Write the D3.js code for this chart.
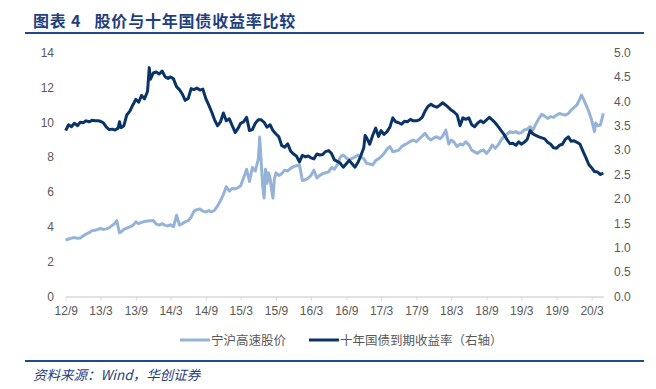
<!DOCTYPE html>
<meta charset="utf-8">
<style>
  body { margin: 0; background: #fff; }
  svg text { font-family: "Liberation Sans", Arial, sans-serif; }
  .cjk { font-family: "Noto Sans CJK SC", sans-serif; }
</style>
<svg width="656" height="389"></svg>
<script src="https://cdn.jsdelivr.net/npm/d3@7"></script>
<script>

// x axis tick labels (yy/m)
var tickLabels = ["12/9","13/3","13/9","14/3","14/9","15/3","15/9","16/3",
                  "16/9","17/3","17/9","18/3","18/9","19/3","19/9","20/3"];
var leftTicks = [0, 2, 4, 6, 8, 10, 12, 14];
var rightTicks = [0, 0.5, 1, 1.5, 2, 2.5, 3, 3.5, 4, 4.5, 5];

// 宁沪高速股价 (left axis)
var stockPrice = [
  ["2012-09-01",3.24],["2012-09-16",3.30],["2012-10-01",3.35],["2012-10-16",3.38],
  ["2012-11-01",3.34],["2012-11-16",3.36],["2012-12-01",3.48],["2012-12-16",3.58],
  ["2013-01-01",3.66],["2013-01-16",3.78],["2013-02-01",3.80],["2013-02-16",3.85],
  ["2013-03-01",3.90],["2013-03-16",3.85],["2013-04-01",3.88],["2013-04-16",3.95],
  ["2013-05-01",4.08],["2013-05-16",4.20],["2013-05-25",4.35],["2013-06-08",3.66],
  ["2013-06-16",3.70],["2013-07-01",3.85],["2013-07-16",3.92],["2013-08-01",4.00],
  ["2013-08-16",4.08],["2013-09-01",4.28],["2013-09-16",4.18],["2013-10-01",4.25],
  ["2013-10-16",4.30],["2013-11-01",4.33],["2013-11-16",4.35],["2013-12-01",4.36],
  ["2013-12-16",4.15],["2014-01-01",4.10],["2014-01-16",4.18],["2014-02-01",4.08],
  ["2014-02-16",4.05],["2014-03-01",4.12],["2014-03-16",4.00],["2014-04-01",4.66],
  ["2014-04-16",4.10],["2014-05-01",4.18],["2014-05-16",4.28],["2014-06-01",4.35],
  ["2014-06-16",4.55],["2014-07-01",4.90],["2014-07-16",4.98],["2014-08-01",5.02],
  ["2014-08-16",4.90],["2014-09-01",4.85],["2014-09-16",4.92],["2014-10-01",4.86],
  ["2014-10-16",4.95],["2014-11-01",5.20],["2014-11-16",5.50],["2014-12-01",5.85],
  ["2014-12-16",6.30],["2015-01-01",6.05],["2015-01-16",6.20],["2015-02-01",6.18],
  ["2015-02-16",6.25],["2015-03-01",6.35],["2015-03-16",6.80],["2015-04-01",7.30],
  ["2015-04-16",6.60],["2015-05-01",7.40],["2015-05-16",7.20],["2015-06-01",7.90],
  ["2015-06-08",9.15],["2015-06-16",7.70],["2015-06-23",6.40],["2015-07-01",5.65],
  ["2015-07-08",7.30],["2015-07-16",6.50],["2015-07-23",7.10],["2015-08-01",6.80],
  ["2015-08-08",6.20],["2015-08-16",5.65],["2015-08-23",6.70],["2015-09-01",7.10],
  ["2015-09-16",6.95],["2015-10-01",7.05],["2015-10-16",7.25],["2015-11-01",7.20],
  ["2015-11-16",7.35],["2015-12-01",7.45],["2015-12-16",7.50],["2016-01-01",7.55],
  ["2016-01-08",7.16],["2016-01-16",6.65],["2016-02-01",6.70],["2016-02-16",6.80],
  ["2016-03-01",6.95],["2016-03-16",7.25],["2016-04-01",6.80],["2016-04-16",6.95],
  ["2016-05-01",7.05],["2016-05-16",7.10],["2016-06-01",7.15],["2016-06-16",7.40],
  ["2016-07-01",7.30],["2016-07-16",7.55],["2016-08-01",8.00],["2016-08-16",8.12],
  ["2016-09-01",7.95],["2016-09-16",7.84],["2016-10-01",7.93],["2016-10-16",8.00],
  ["2016-11-01",8.12],["2016-11-16",8.00],["2016-12-01",7.90],["2016-12-16",7.64],
  ["2017-01-01",7.60],["2017-01-16",7.55],["2017-02-01",7.80],["2017-02-16",7.90],
  ["2017-03-01",8.02],["2017-03-16",8.20],["2017-04-01",8.45],["2017-04-16",8.60],
  ["2017-05-01",8.31],["2017-05-16",8.35],["2017-06-01",8.40],["2017-06-16",8.60],
  ["2017-07-01",8.70],["2017-07-16",8.79],["2017-08-01",8.90],["2017-08-16",8.98],
  ["2017-09-01",8.88],["2017-09-16",9.05],["2017-10-01",9.20],["2017-10-16",9.36],
  ["2017-11-01",9.10],["2017-11-16",8.98],["2017-12-01",9.10],["2017-12-16",9.17],
  ["2018-01-01",9.05],["2018-01-16",9.20],["2018-02-01",9.55],["2018-02-16",8.75],
  ["2018-03-01",8.98],["2018-03-16",8.85],["2018-04-01",8.60],["2018-04-16",8.75],
  ["2018-05-01",8.69],["2018-05-16",8.88],["2018-06-01",8.70],["2018-06-16",8.40],
  ["2018-07-01",8.30],["2018-07-16",8.21],["2018-08-01",8.35],["2018-08-16",8.40],
  ["2018-09-01",8.21],["2018-09-16",8.40],["2018-10-01",8.69],["2018-10-16",8.50],
  ["2018-11-01",8.70],["2018-11-16",8.98],["2018-12-01",9.17],["2018-12-16",9.30],
  ["2019-01-01",9.46],["2019-01-16",9.40],["2019-02-01",9.46],["2019-02-16",9.36],
  ["2019-03-01",9.40],["2019-03-16",9.55],["2019-04-01",9.60],["2019-04-16",9.74],
  ["2019-05-01",9.55],["2019-05-16",9.90],["2019-06-01",10.22],["2019-06-16",10.45],
  ["2019-07-01",10.35],["2019-07-16",10.22],["2019-08-01",10.32],["2019-08-16",10.28],
  ["2019-09-01",10.41],["2019-09-16",10.50],["2019-10-01",10.45],["2019-10-16",10.41],
  ["2019-11-01",10.50],["2019-11-16",10.70],["2019-12-01",10.85],["2019-12-16",11.00],
  ["2020-01-01",11.37],["2020-01-08",11.56],["2020-01-16",11.40],["2020-02-01",11.00],
  ["2020-02-16",10.60],["2020-03-01",10.13],["2020-03-16",9.46],["2020-03-23",9.95],
  ["2020-04-01",9.80],["2020-04-16",9.84],["2020-05-01",10.51]
];

// 十年国债到期收益率 (right axis)
var bondYield = [
  ["2012-09-01",3.40],["2012-09-16",3.52],["2012-10-01",3.48],["2012-10-16",3.55],
  ["2012-11-01",3.50],["2012-11-16",3.57],["2012-12-01",3.56],["2012-12-16",3.60],
  ["2013-01-01",3.58],["2013-01-16",3.61],["2013-02-01",3.60],["2013-02-16",3.60],
  ["2013-03-01",3.59],["2013-03-16",3.56],["2013-04-01",3.47],["2013-04-16",3.42],
  ["2013-05-01",3.43],["2013-05-16",3.41],["2013-06-01",3.45],["2013-06-08",3.58],
  ["2013-06-16",3.46],["2013-07-01",3.50],["2013-07-16",3.72],["2013-08-01",3.80],
  ["2013-08-16",3.92],["2013-09-01",4.04],["2013-09-16",3.98],["2013-10-01",4.12],
  ["2013-10-16",4.05],["2013-11-01",4.20],["2013-11-10",4.69],["2013-11-16",4.45],
  ["2013-12-01",4.58],["2013-12-16",4.60],["2014-01-01",4.56],["2014-01-16",4.62],
  ["2014-02-01",4.50],["2014-02-16",4.47],["2014-03-01",4.50],["2014-03-16",4.46],
  ["2014-04-01",4.30],["2014-04-16",4.24],["2014-05-01",4.15],["2014-05-16",4.02],
  ["2014-06-01",4.06],["2014-06-16",4.26],["2014-07-01",4.24],["2014-07-16",4.27],
  ["2014-08-01",4.23],["2014-08-16",4.25],["2014-09-01",4.05],["2014-09-16",3.92],
  ["2014-10-01",3.78],["2014-10-16",3.62],["2014-11-01",3.50],["2014-11-16",3.58],
  ["2014-12-01",3.76],["2014-12-16",3.60],["2015-01-01",3.64],["2015-01-16",3.50],
  ["2015-02-01",3.36],["2015-02-16",3.45],["2015-03-01",3.55],["2015-03-16",3.58],
  ["2015-04-01",3.67],["2015-04-16",3.40],["2015-05-01",3.42],["2015-05-16",3.55],
  ["2015-06-01",3.62],["2015-06-16",3.62],["2015-07-01",3.57],["2015-07-16",3.47],
  ["2015-08-01",3.52],["2015-08-16",3.40],["2015-09-01",3.33],["2015-09-16",3.27],
  ["2015-10-01",3.09],["2015-10-16",3.06],["2015-11-01",3.13],["2015-11-16",2.98],
  ["2015-12-01",2.92],["2015-12-16",2.88],["2016-01-01",2.76],["2016-01-16",2.89],
  ["2016-02-01",2.86],["2016-02-16",2.88],["2016-03-01",2.84],["2016-03-16",2.82],
  ["2016-04-01",2.92],["2016-04-16",2.90],["2016-05-01",2.91],["2016-05-16",2.97],
  ["2016-06-01",2.99],["2016-06-16",2.93],["2016-07-01",2.80],["2016-07-16",2.77],
  ["2016-08-01",2.73],["2016-08-16",2.65],["2016-09-01",2.72],["2016-09-16",2.79],
  ["2016-10-01",2.72],["2016-10-16",2.65],["2016-11-01",2.75],["2016-11-16",2.89],
  ["2016-12-01",3.05],["2016-12-08",3.30],["2016-12-16",3.25],["2017-01-01",3.12],
  ["2017-01-16",3.30],["2017-02-01",3.45],["2017-02-16",3.28],["2017-03-01",3.40],
  ["2017-03-16",3.32],["2017-04-01",3.38],["2017-04-16",3.47],["2017-05-01",3.66],
  ["2017-05-16",3.58],["2017-06-01",3.56],["2017-06-16",3.53],["2017-07-01",3.59],
  ["2017-07-16",3.58],["2017-08-01",3.63],["2017-08-16",3.60],["2017-09-01",3.60],
  ["2017-09-16",3.62],["2017-10-01",3.67],["2017-10-16",3.80],["2017-11-01",3.90],
  ["2017-11-16",3.94],["2017-12-01",3.90],["2017-12-16",3.88],["2018-01-01",3.92],
  ["2018-01-16",3.97],["2018-02-01",3.92],["2018-02-16",3.87],["2018-03-01",3.82],
  ["2018-03-16",3.78],["2018-04-01",3.72],["2018-04-16",3.50],["2018-05-01",3.66],
  ["2018-05-16",3.63],["2018-06-01",3.66],["2018-06-16",3.52],["2018-07-01",3.48],
  ["2018-07-16",3.55],["2018-08-01",3.60],["2018-08-16",3.56],["2018-09-01",3.62],
  ["2018-09-16",3.67],["2018-10-01",3.62],["2018-10-16",3.56],["2018-11-01",3.48],
  ["2018-11-16",3.40],["2018-12-01",3.32],["2018-12-16",3.22],["2019-01-01",3.13],
  ["2019-01-16",3.14],["2019-02-01",3.10],["2019-02-16",3.17],["2019-03-01",3.12],
  ["2019-03-16",3.16],["2019-04-01",3.22],["2019-04-16",3.40],["2019-05-01",3.33],
  ["2019-05-16",3.30],["2019-06-01",3.27],["2019-06-16",3.25],["2019-07-01",3.23],
  ["2019-07-16",3.16],["2019-08-01",3.12],["2019-08-16",3.05],["2019-09-01",3.04],
  ["2019-09-16",3.10],["2019-10-01",3.12],["2019-10-16",3.22],["2019-11-01",3.27],
  ["2019-11-16",3.18],["2019-12-01",3.19],["2019-12-16",3.16],["2020-01-01",3.12],
  ["2020-01-16",2.98],["2020-02-01",2.84],["2020-02-16",2.70],["2020-03-01",2.64],
  ["2020-03-16",2.56],["2020-04-01",2.55],["2020-04-16",2.50],["2020-05-01",2.53]
];

var parse = d3.timeParse("%Y-%m-%d");
var svg = d3.select("svg");

var x = d3.scaleTime()
  .domain([parse("2012-09-01"), parse("2020-05-01")])
  .range([65.7, 603.3]);
var yL = d3.scaleLinear().domain([0, 14]).range([296.5, 52.5]);
var yR = d3.scaleLinear().domain([0, 5]).range([296.5, 52.5]);

// title + rules
svg.append("text").attr("class", "cjk")
  .attr("x", 33).attr("y", 27)
  .style("font-size", "16px").style("font-weight", "bold")
  .style("letter-spacing", "0.8px")
  .attr("fill", "#1f3f7f")
  .attr("xml:space", "preserve")
  .text("图表 4   股价与十年国债收益率比较");
svg.append("line").attr("x1", 25).attr("x2", 644).attr("y1", 33).attr("y2", 33)
  .attr("stroke", "#1f4a8a").attr("stroke-width", 2);
svg.append("line").attr("x1", 25).attr("x2", 644).attr("y1", 361).attr("y2", 361)
  .attr("stroke", "#1f4a8a").attr("stroke-width", 2);
svg.append("text").attr("class", "cjk")
  .attr("x", 33).attr("y", 380)
  .style("font-size", "13.5px").style("font-style", "italic")
  .attr("fill", "#1f3f7f")
  .text("资料来源：Wind，华创证券");

// x axis
var tickDates = tickLabels.map(function(t) {
  var p = t.split("/");
  return new Date(2000 + +p[0], +p[1] - 1, 1);
});
var xAxis = svg.append("g")
  .attr("transform", "translate(0,296.5)")
  .call(d3.axisBottom(x).tickValues(tickDates)
    .tickFormat(function(d, i) { return tickLabels[i]; })
    .tickSize(4).tickSizeOuter(0));
xAxis.select(".domain").attr("stroke", "#d9d9d9").attr("stroke-width", 1.5);
xAxis.selectAll(".tick line").attr("stroke", "#d9d9d9");
xAxis.selectAll("text").attr("fill", "#595959").style("font-size", "12px")
  .attr("dy", "0.95em");

// y axes (labels only)
var left = svg.append("g").attr("transform", "translate(54,0)")
  .call(d3.axisLeft(yL).tickValues(leftTicks).tickSize(0).tickPadding(0));
var right = svg.append("g").attr("transform", "translate(614,0)")
  .call(d3.axisRight(yR).tickValues(rightTicks).tickFormat(d3.format(".1f"))
    .tickSize(0).tickPadding(0));
[left, right].forEach(function(g) {
  g.select(".domain").remove();
  g.selectAll("text").attr("fill", "#595959").style("font-size", "12px");
});

// lines
var lineL = d3.line().x(function(d) { return x(parse(d[0])); })
  .y(function(d) { return yL(d[1]); });
var lineR = d3.line().x(function(d) { return x(parse(d[0])); })
  .y(function(d) { return yR(d[1]); });

svg.append("path").datum(stockPrice).attr("d", lineL)
  .attr("fill", "none").attr("stroke", "#95b3d7").attr("stroke-width", 3)
  .attr("stroke-linejoin", "round");
svg.append("path").datum(bondYield).attr("d", lineR)
  .attr("fill", "none").attr("stroke", "#0a3466").attr("stroke-width", 3)
  .attr("stroke-linejoin", "round");

// legend
var legend = [
  { name: "宁沪高速股价", color: "#95b3d7", x: 180 },
  { name: "十年国债到期收益率（右轴）", color: "#0a3466", x: 309 }
];
legend.forEach(function(l) {
  svg.append("line").attr("x1", l.x).attr("x2", l.x + 30)
    .attr("y1", 340).attr("y2", 340)
    .attr("stroke", l.color).attr("stroke-width", 3);
  svg.append("text").attr("class", "cjk")
    .attr("x", l.x + 31).attr("y", 344.5)
    .style("font-size", "12.5px").attr("fill", "#595959")
    .text(l.name);
});
</script>
